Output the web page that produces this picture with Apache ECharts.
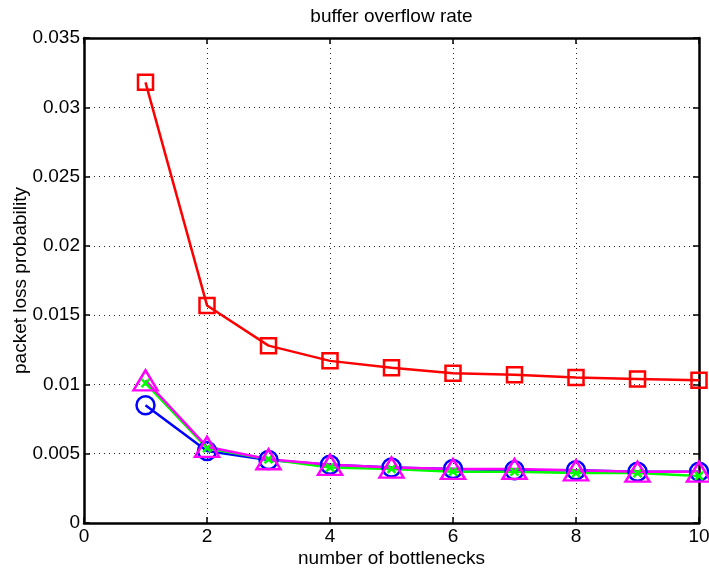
<!DOCTYPE html>
<html>
<head>
<meta charset="utf-8">
<script src="https://cdn.jsdelivr.net/npm/echarts@6/dist/echarts.min.js"></script>
<style>html,body{margin:0;padding:0;background:#fff}#c{width:709px;height:571px}</style>
</head>
<body>
<div id="c"></div>
<script>
const bottlenecks = [1, 2, 3, 4, 5, 6, 7, 8, 9, 10];
const redSquares = [0.0318, 0.0157, 0.0128, 0.0117, 0.0112, 0.0108, 0.0107, 0.0105, 0.0104, 0.0103];
const blueCircles = [0.0085, 0.0052, 0.00455, 0.0042, 0.0040, 0.0039, 0.0038, 0.0038, 0.0037, 0.0037];
const greenCrosses = [0.0101, 0.0054, 0.0046, 0.0040, 0.0039, 0.0037, 0.0037, 0.0036, 0.0036, 0.0034];
const magentaTriangles = [0.0103, 0.0055, 0.0046, 0.0042, 0.0040, 0.0039, 0.0039, 0.0038, 0.0037, 0.0037];
const xTicks = [0, 2, 4, 6, 8, 10];
const yTicks = [0, 0.005, 0.01, 0.015, 0.02, 0.025, 0.03, 0.035];
const titleText = 'buffer overflow rate';
const xLabel = 'number of bottlenecks';
const yLabel = 'packet loss probability';

const FONT = 'Liberation Sans, Arial, Helvetica, sans-serif';
const FS = 19;
const pairs = ys => bottlenecks.map((x, i) => [x, ys[i]]);

function mk(name, ys, color, symbol, size) {
  return {
    name, type: 'line', data: pairs(ys), symbol, symbolSize: size,
    showAllSymbol: true,
    lineStyle: { color, width: 2.5 },
    itemStyle: { color: 'rgba(0,0,0,0)', borderColor: color, borderWidth: 2.5 },
    emphasis: { disabled: true }
  };
}

const chart = echarts.init(document.getElementById('c'), null, { renderer: 'canvas' });
const grid = { left: 84, right: 10, top: 38, bottom: 48, containLabel: false, outerBoundsMode: 'none' };
const axisLine = { show: true, onZero: false, lineStyle: { color: '#000', width: 2.5 } };
const tick = { show: true, inside: true, length: 6, lineStyle: { color: '#000', width: 1.5 } };
const split = { show: true, lineStyle: { type: [1, 4], color: '#222', width: 1 } };

chart.setOption({
  animation: false,
  backgroundColor: '#fff',
  grid,
  graphic: [{
    type: 'text', x: 391.5, y: 17,
    style: { text: titleText, fontSize: FS, fontFamily: FONT, fill: '#000', textAlign: 'center', textVerticalAlign: 'middle' }
  }],
  xAxis: [{
    type: 'value', min: xTicks[0], max: xTicks[xTicks.length - 1], interval: xTicks[1] - xTicks[0],
    position: 'bottom', axisLine, axisTick: tick, splitLine: split,
    axisLabel: { fontSize: FS, fontFamily: FONT, color: '#000', margin: 4 },
    name: xLabel, nameLocation: 'middle', nameGap: 26, nameMoveOverlap: false,
    nameTextStyle: { fontSize: FS, fontFamily: FONT, color: '#000' }
  }, {
    type: 'value', min: xTicks[0], max: xTicks[xTicks.length - 1], interval: xTicks[1] - xTicks[0],
    position: 'top', axisLine, axisTick: tick, splitLine: { show: false }, axisLabel: { show: false }
  }],
  yAxis: [{
    type: 'value', min: yTicks[0], max: yTicks[yTicks.length - 1], interval: yTicks[1] - yTicks[0],
    position: 'left', axisLine, axisTick: tick, splitLine: split,
    axisLabel: { fontSize: FS, fontFamily: FONT, color: '#000', margin: 4,
      formatter: v => String(+v.toFixed(3)) },
    name: yLabel, nameLocation: 'middle', nameGap: 54, nameMoveOverlap: false,
    nameTextStyle: { fontSize: FS, fontFamily: FONT, color: '#000' }
  }, {
    type: 'value', min: yTicks[0], max: yTicks[yTicks.length - 1], interval: yTicks[1] - yTicks[0],
    position: 'right', axisLine, axisTick: tick, splitLine: { show: false }, axisLabel: { show: false }
  }],
  series: [
    mk('red', redSquares, '#ff0000', 'rect', 15),
    mk('blue', blueCircles, '#0000ff', 'circle', 18),
    mk('green', greenCrosses, '#00ff00', 'path://M0,0L10,10M10,0L0,10', 8),
    mk('magenta', magentaTriangles, '#ff00ff', 'triangle', [24, 20])
  ]
});
</script>
</body>
</html>
